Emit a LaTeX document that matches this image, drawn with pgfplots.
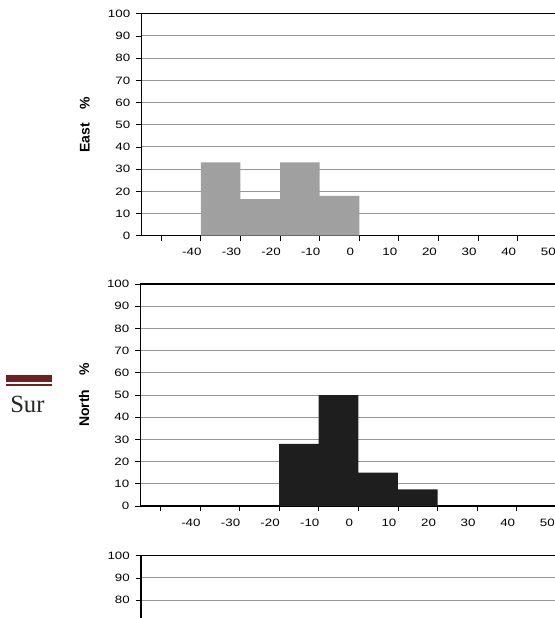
\documentclass[border=0pt]{standalone}
\usepackage{pgfplots}
\pgfplotsset{compat=1.18}
\usepackage{fontspec}
\setmainfont{Liberation Sans}
\newfontfamily\serifsur{Liberation Serif}
\definecolor{barE}{RGB}{160,160,160}
\definecolor{barN}{RGB}{30,30,30}
\definecolor{gridc}{RGB}{150,150,150}
\definecolor{maroonbar}{RGB}{107,34,34}

\pgfplotsset{
 panel/.style={
   scale only axis, width=326.7pt, height=166.5pt,
   xmin=-55, xmax=55, ymin=0, ymax=100,
   axis line style={black, line width=0.9pt},
   xtick={-50,-40,...,50},
   xticklabels={,-40,-30,-20,-10,0,10,20,30,40,50},
   ytick={0,10,...,100},
   tick align=outside, tick pos=left,
   major tick length=4pt,
   tick style={black, line width=0.6pt},
   ymajorgrids, grid style={gridc, line width=0.7pt},
   /pgf/number format/assume math mode=true,
   ticklabel style={font=\fontsize{8}{9}\selectfont, xscale=1.25},
   xticklabel style={xshift=-5.4pt, yshift=-2pt},
   ylabel style={at={(axis description cs:0,0.5)}, anchor=center, yshift=42.4pt, font=\fontsize{10.5}{12}\selectfont\bfseries},
   anchor=south west,
 }
}

\begin{document}
\begin{tikzpicture}
\clip (0,0) rectangle (416.25pt,-463.5pt);
\path[use as bounding box] (0,0) rectangle (416.25pt,-463.5pt);

\fill[maroonbar] (4.5pt,-281.25pt) rectangle (39pt,-286.3pt);
\fill[maroonbar] (4.5pt,-288.2pt) rectangle (39pt,-289.7pt);
\node[anchor=base west, font=\serifsur\fontsize{18.5}{21}\selectfont, text=black!85, inner sep=0pt] at (7.5pt,-309pt) {Sur};

\begin{axis}[panel, at={(106.1pt,-176.8pt)}, ylabel={East\hspace{1em}\%}]
\addplot[ybar interval, fill=barE, draw=none] coordinates {(-40,33) (-30,16.5) (-20,33) (-10,18) (0,18)};
\end{axis}

\begin{axis}[panel, at={(105.4pt,-379.5pt)}, ylabel={North\hspace{1em}\%}]
\addplot[ybar interval, fill=barN, draw=none] coordinates {(-20,28) (-10,50) (0,15) (10,7.5) (20,7.5)};
\end{axis}

\begin{axis}[panel, at={(105.75pt,-583.3pt)}, xticklabels={}, yticklabels={,,,,,,,,80,90,100}]
\end{axis}
\end{tikzpicture}
\end{document}
